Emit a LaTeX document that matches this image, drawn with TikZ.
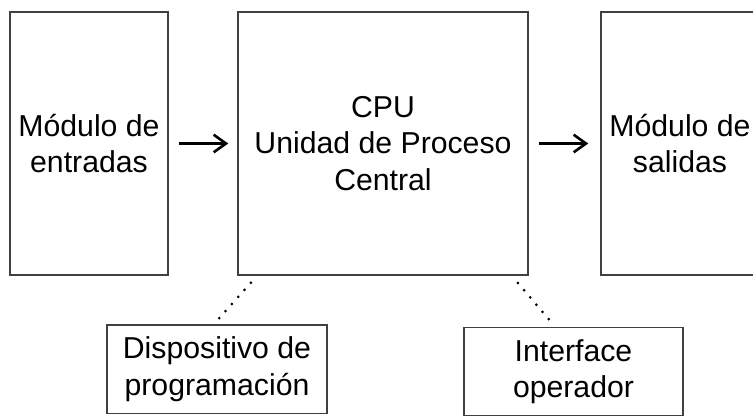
\documentclass[tikz,border=0pt]{standalone}
\usepackage{fontspec}
\setmainfont{Liberation Sans}
\usetikzlibrary{arrows.meta, positioning}

\begin{document}
\begin{tikzpicture}[auto, node distance=5.88cm, >={Straight Barb[length=7pt,width=10pt]},
    font=\fontsize{17.2}{20.8}\selectfont,
    block/.style={rectangle, draw=black!75, line width=0.85pt, align=center, minimum width=3.16cm, minimum height=5.26cm},
    smallblock/.style={rectangle, draw=black!75, line width=0.85pt, align=center, minimum width=4.4cm, minimum height=1.77cm},
    flow/.style={->, line width=1.5pt},
    link/.style={line width=1.7pt, line cap=round, dash pattern=on 0pt off 5.4pt}]
    \clip (0,0) rectangle (15.06,-8.3);

    % Nodes
    \node [block] (inp) at (1.78,-2.87) {Módulo de\\entradas};
    \node [block, right of=inp, minimum width=5.8cm] (cpu) {CPU\\Unidad de Proceso\\Central};
    \node [block, right of=cpu, node distance=5.94cm] (out) {Módulo de\\salidas};
    \node [smallblock] (prog) at (4.34,-7.38) {Dispositivo de\\programación};
    \node [smallblock, minimum width=4.38cm] (oper) at (11.47,-7.43) {Interface\\operador};

    % Arrows
    \draw [flow, shorten <=0.2cm, shorten >=0.18cm] (inp) -- (cpu);
    \draw [flow, shorten <=0.2cm, shorten >=0.24cm] (cpu) -- (out);

    % Dotted links
    \draw [link, shorten <=0.19cm, shorten >=0.13cm] ([xshift=0.4cm]cpu.south west) -- ([xshift=-0.06cm]prog.north);
    \draw [link, shorten <=0.19cm, shorten >=0.13cm] ([xshift=-0.34cm]cpu.south east) -- ([xshift=-0.37cm]oper.north);

  \end{tikzpicture}
\end{document}
